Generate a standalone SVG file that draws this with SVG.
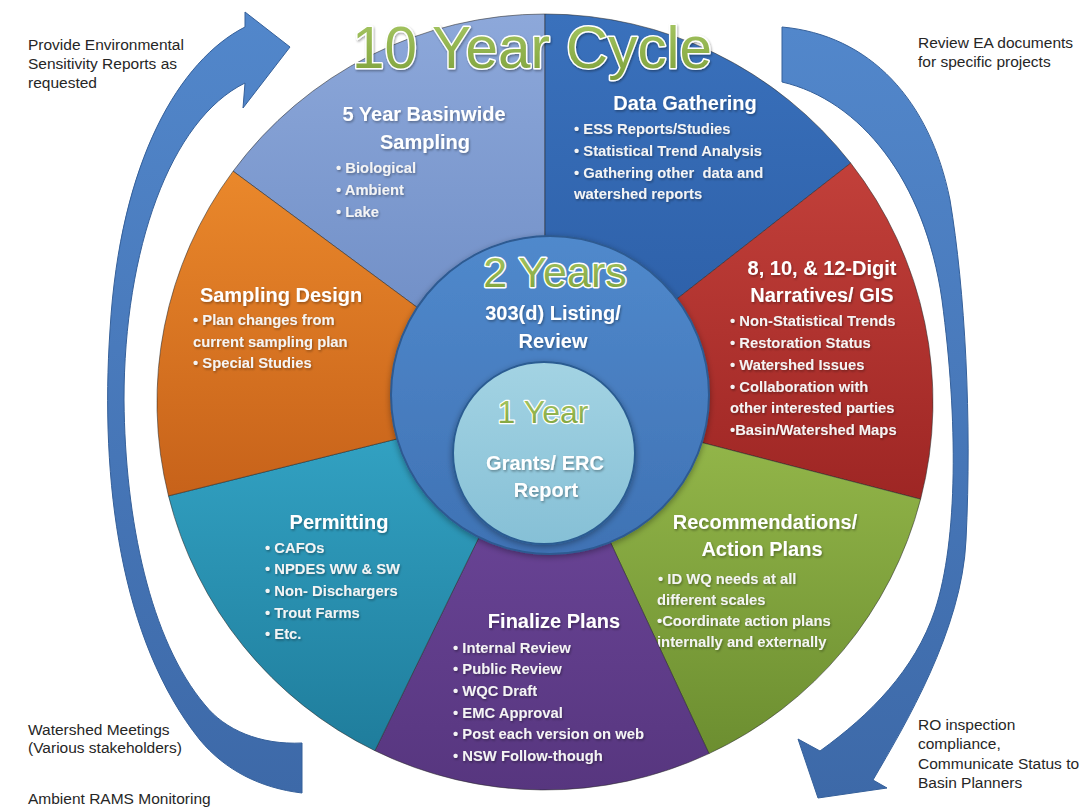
<svg xmlns="http://www.w3.org/2000/svg" width="1079" height="808" viewBox="0 0 1079 808">
<defs>
  <linearGradient id="gLb" x1="0" y1="0" x2="0" y2="1"><stop offset="0" stop-color="#8DA8DA"/><stop offset="1" stop-color="#6A89C2"/></linearGradient>
  <linearGradient id="gDb" x1="0" y1="0" x2="0" y2="1"><stop offset="0" stop-color="#3A71BC"/><stop offset="1" stop-color="#2A5CA4"/></linearGradient>
  <linearGradient id="gRed" x1="0" y1="0" x2="0" y2="1"><stop offset="0" stop-color="#C2403A"/><stop offset="1" stop-color="#9E2624"/></linearGradient>
  <linearGradient id="gGrn" x1="0" y1="0" x2="0" y2="1"><stop offset="0" stop-color="#97BA4C"/><stop offset="1" stop-color="#6C8E30"/></linearGradient>
  <linearGradient id="gPur" x1="0" y1="0" x2="0" y2="1"><stop offset="0" stop-color="#70499E"/><stop offset="1" stop-color="#57367F"/></linearGradient>
  <linearGradient id="gTeal" x1="0" y1="0" x2="0" y2="1"><stop offset="0" stop-color="#34A5C6"/><stop offset="1" stop-color="#1F7D9C"/></linearGradient>
  <linearGradient id="gOr" x1="0" y1="0" x2="0" y2="1"><stop offset="0" stop-color="#EA882B"/><stop offset="1" stop-color="#C7621A"/></linearGradient>
  <linearGradient id="g2y" x1="0" y1="0" x2="0" y2="1"><stop offset="0" stop-color="#5089CC"/><stop offset="1" stop-color="#3F72B4"/></linearGradient>
  <linearGradient id="g1y" x1="0" y1="0" x2="0" y2="1"><stop offset="0" stop-color="#A3D3E3"/><stop offset="1" stop-color="#86C0D6"/></linearGradient>
  <linearGradient id="gTxt" x1="0" y1="0" x2="0" y2="1"><stop offset="0" stop-color="#A9C966"/><stop offset="1" stop-color="#7DA03A"/></linearGradient>
  <linearGradient id="gArr" x1="0" y1="0" x2="0" y2="1"><stop offset="0" stop-color="#5287CB"/><stop offset="1" stop-color="#3D69A8"/></linearGradient>
  <filter id="tsh" x="-10%" y="-20%" width="120%" height="150%"><feDropShadow dx="1" dy="1.5" stdDeviation="1" flood-color="#000" flood-opacity="0.35"/></filter>
  <filter id="csh" x="-10%" y="-10%" width="120%" height="125%"><feDropShadow dx="0" dy="2" stdDeviation="3" flood-color="#000" flood-opacity="0.35"/></filter>
</defs>
<style>
  text{font-family:"Liberation Sans",Arial,sans-serif}
  .ann{font-size:15.5px;fill:#262626}
  .ttl{font-size:20px;font-weight:bold;fill:#FFFFFF;text-anchor:middle}
  .bul{font-size:14.8px;font-weight:bold;fill:#F4F4F4}
  .big{fill:url(#gTxt);stroke:#FFFFFF;stroke-width:3;paint-order:stroke;text-anchor:middle;stroke-linejoin:round}
  .sec{stroke:#2a2a2a;stroke-opacity:0.55;stroke-width:1}
  .arr{fill:url(#gArr);stroke:#35609A;stroke-width:1}
</style>
<rect x="0" y="0" width="1079" height="808" fill="#FFFFFF"/>

<g id="connectors">
  <path class="arr" d="M245,27 L245,12 L290,47 L243,108 L245,83 C170,120 124,250 124,400 C125,520 150,640 205,705 C225,730 260,745 302,743 L302,793 C260,788 225,770 200,740 C120,640 100,480 110,330 C120,160 180,60 245,27 Z"/>
  <path class="arr" d="M782,27 C870,35 930,100 950,200 C965,290 972,420 966,540 C962,630 905,725 873,780 L887,788 L818,798 L798,739 L820,751 C870,715 915,670 935,610 C958,540 958,420 942,300 C925,180 860,100 782,82 Z"/>
</g>

<g id="ann-provide">
  <text class="ann" x="28" y="50">Provide Environmental</text>
  <text class="ann" x="28" y="69">Sensitivity Reports as</text>
  <text class="ann" x="28" y="88">requested</text>
</g>
<g id="ann-review">
  <text class="ann" x="918" y="48">Review EA documents</text>
  <text class="ann" x="918" y="67">for specific projects</text>
</g>
<g id="ann-watershed">
  <text class="ann" x="28" y="735">Watershed Meetings</text>
  <text class="ann" x="28" y="753">(Various stakeholders)</text>
</g>
<g id="ann-ambient">
  <text class="ann" x="28" y="804">Ambient RAMS Monitoring</text>
</g>
<g id="ann-ro">
  <text class="ann" x="918" y="730">RO inspection</text>
  <text class="ann" x="918" y="749">compliance,</text>
  <text class="ann" x="918" y="769">Communicate Status to</text>
  <text class="ann" x="918" y="788">Basin Planners</text>
</g>

<g id="n-basinwide-sampling">
  <path class="sec" fill="url(#gLb)" d="M545,402 L233.1,171.2 A388,388 0 0 1 545,14 Z"/>
  <g filter="url(#tsh)">
    <text class="ttl" x="424" y="121">5 Year Basinwide</text>
    <text class="ttl" x="425" y="149">Sampling</text>
    <text class="bul" x="336" y="173">• Biological</text>
    <text class="bul" x="336" y="195">• Ambient</text>
    <text class="bul" x="336" y="217">• Lake</text>
  </g>
</g>

<g id="n-data-gathering">
  <path class="sec" fill="url(#gDb)" d="M545,402 L545,14 A388,388 0 0 1 850.7,163.1 Z"/>
  <g filter="url(#tsh)">
    <text class="ttl" x="685" y="110">Data Gathering</text>
    <text class="bul" x="574" y="134">• ESS Reports/Studies</text>
    <text class="bul" x="574" y="156">• Statistical Trend Analysis</text>
    <text class="bul" x="574" y="178">• Gathering other&#160; data and</text>
    <text class="bul" x="574" y="199">watershed reports</text>
  </g>
</g>

<g id="n-narratives">
  <path class="sec" fill="url(#gRed)" d="M545,402 L850.7,163.1 A388,388 0 0 1 920.6,499.2 Z"/>
  <g filter="url(#tsh)">
    <text class="ttl" x="822" y="275">8, 10, &amp; 12-Digit</text>
    <text class="ttl" x="822" y="302">Narratives/ GIS</text>
    <text class="bul" x="730" y="326">• Non-Statistical Trends</text>
    <text class="bul" x="730" y="348">• Restoration Status</text>
    <text class="bul" x="730" y="370">• Watershed Issues</text>
    <text class="bul" x="730" y="392">• Collaboration with</text>
    <text class="bul" x="730" y="413">other interested parties</text>
    <text class="bul" x="730" y="435">•Basin/Watershed Maps</text>
  </g>
</g>

<g id="n-recommendations">
  <path class="sec" fill="url(#gGrn)" d="M545,402 L920.6,499.2 A388,388 0 0 1 709,753.6 Z"/>
  <g filter="url(#tsh)">
    <text class="ttl" x="765" y="529">Recommendations/</text>
    <text class="ttl" x="762" y="556">Action Plans</text>
    <text class="bul" x="658" y="584">• ID WQ needs at all</text>
    <text class="bul" x="657" y="605">different scales</text>
    <text class="bul" x="657" y="626">•Coordinate action plans</text>
    <text class="bul" x="657" y="647">internally and externally</text>
  </g>
</g>

<g id="n-finalize-plans">
  <path class="sec" fill="url(#gPur)" d="M545,402 L709,753.6 A388,388 0 0 1 374.9,750.7 Z"/>
  <g filter="url(#tsh)">
    <text class="ttl" x="554" y="628">Finalize Plans</text>
    <text class="bul" x="453" y="653">• Internal Review</text>
    <text class="bul" x="453" y="674">• Public Review</text>
    <text class="bul" x="453" y="696">• WQC Draft</text>
    <text class="bul" x="453" y="718">• EMC Approval</text>
    <text class="bul" x="453" y="739">• Post each version on web</text>
    <text class="bul" x="453" y="761">• NSW Follow-though</text>
  </g>
</g>

<g id="n-permitting">
  <path class="sec" fill="url(#gTeal)" d="M545,402 L374.9,750.7 A388,388 0 0 1 168.5,495.9 Z"/>
  <g filter="url(#tsh)">
    <text class="ttl" x="339" y="529">Permitting</text>
    <text class="bul" x="265" y="553">• CAFOs</text>
    <text class="bul" x="265" y="574">• NPDES WW &amp; SW</text>
    <text class="bul" x="265" y="596">• Non- Dischargers</text>
    <text class="bul" x="265" y="618">• Trout Farms</text>
    <text class="bul" x="265" y="639">• Etc.</text>
  </g>
</g>

<g id="n-sampling-design">
  <path class="sec" fill="url(#gOr)" d="M545,402 L168.5,495.9 A388,388 0 0 1 233.1,171.2 Z"/>
  <g filter="url(#tsh)">
    <text class="ttl" x="281" y="302">Sampling Design</text>
    <text class="bul" x="193" y="325" fill="#FDF1E6">• Plan changes from</text>
    <text class="bul" x="193" y="347" fill="#FDF1E6">current sampling plan</text>
    <text class="bul" x="193" y="368" fill="#FDF1E6">• Special Studies</text>
  </g>
</g>

<g id="n-2-years">
  <circle cx="550" cy="395" r="159" fill="url(#g2y)" stroke="#2D5A91" stroke-width="2" filter="url(#csh)"/>
  <text class="big" x="555" y="287" font-size="43">2 Years</text>
  <g filter="url(#tsh)">
    <text class="ttl" x="553" y="320">303(d) Listing/</text>
    <text class="ttl" x="553" y="348">Review</text>
  </g>
</g>

<g id="n-1-year">
  <circle cx="544" cy="453" r="91" fill="url(#g1y)" stroke="#2B5C92" stroke-width="2" filter="url(#csh)"/>
  <text class="big" x="543" y="423" font-size="32" style="stroke-width:2.5">1 Year</text>
  <g filter="url(#tsh)">
    <text class="ttl" x="545" y="470" fill="#F2FAFD">Grants/ ERC</text>
    <text class="ttl" x="546" y="497" fill="#F2FAFD">Report</text>
  </g>
</g>

<g id="title" filter="url(#tsh)">
  <text class="big" x="532" y="68" font-size="60" textLength="360" lengthAdjust="spacingAndGlyphs">10 Year Cycle</text>
</g>
</svg>
